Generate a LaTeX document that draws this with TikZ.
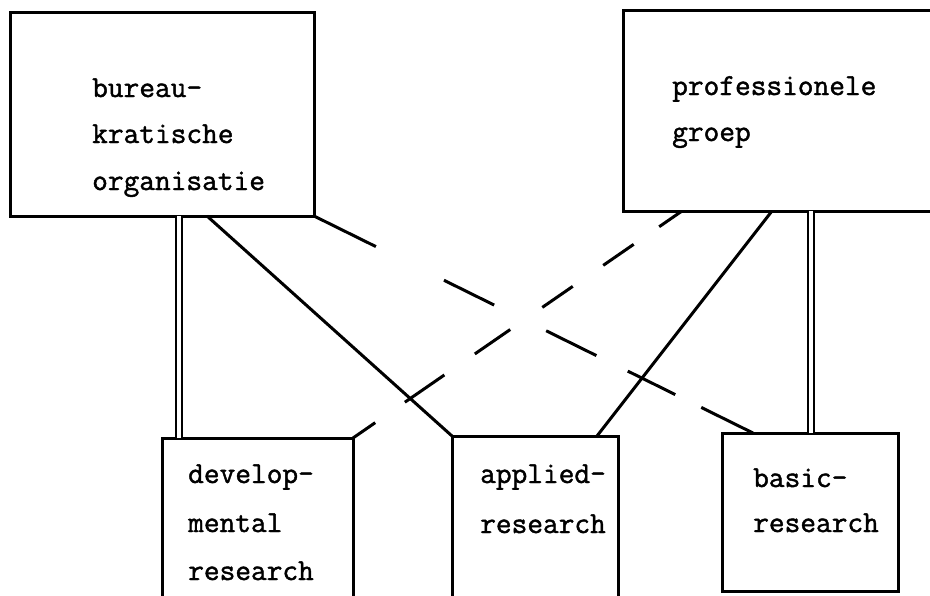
\documentclass[tikz,border=0pt]{standalone}
\usepackage{fontspec}
\newfontfamily\tw[FakeBold=1.4]{Latin Modern Mono}
\begin{document}
\begin{tikzpicture}[x=1pt,y=-1pt,
  box/.style={draw, line width=3pt, inner sep=0pt, outer sep=0pt, anchor=north west},
  txt/.style={anchor=base west, inner sep=0pt, font=\tw\fontsize{30.5}{31}\selectfont},
  conn/.style={line width=3pt},
  dl/.style={double, double distance=4pt, line width=1.8pt}]
\fill[white] (0,0) rectangle (930,595);
\useasboundingbox (0,0) rectangle (930,595);
\clip (0,0) rectangle (930,595);
% boxes
\node[box, minimum width=304pt, minimum height=204pt] (bk) at (10,12) {};
\node[box, minimum width=330pt, minimum height=201pt] (pg) at (623,10) {};
\node[box, minimum width=191pt, minimum height=200pt] (dev) at (162,438) {};
\node[box, minimum width=166pt, minimum height=200pt] (app) at (452,436) {};
\node[box, minimum width=176pt, minimum height=158pt] (bas) at (722,433) {};
% texts
\node[txt] (bk1) at (92,97) {bureau-};
\node[txt] (bk2) at (92,143) {kratische};
\node[txt] (bk3) at (92,190) {organisatie};
\node[txt] (pg1) at (672,95) {professionele};
\node[txt] (pg2) at (672,141) {groep};
\node[txt] (dev1) at (188,483) {develop-};
\node[txt] (dev2) at (188,532) {mental};
\node[txt] (dev3) at (188,580) {research};
\node[txt] (app1) at (480,483) {applied-};
\node[txt] (app2) at (480,533) {research};
\node[txt] (bas1) at (753,487) {basic-};
\node[txt] (bas2) at (753,532) {research};
% connectors
\draw[conn] ([xshift=197pt]bk.south west) -- (app.north west);
\draw[conn] ([xshift=149pt]pg.south west) -- ([xshift=-21pt]app.north east);
\draw[conn, dash pattern=on 69pt off 76pt on 56pt off 58pt on 56pt off 35pt on 53pt off 29pt]
  (bk.south east) -- ([xshift=31pt]bas.north west);
\draw[conn, dash pattern=on 27pt off 36pt on 48pt off 37pt on 43pt off 39pt on 37pt off 37pt on 37pt off 31pt]
  (dev.north east) -- ([xshift=59pt]pg.south west);
\draw[dl] ([xshift=17pt]dev.north west) -- ([xshift=17pt]dev.north west |- bk.south);
\draw[dl] ([xshift=89pt]bas.north west) -- ([xshift=89pt]bas.north west |- pg.south);
\end{tikzpicture}
\end{document}
